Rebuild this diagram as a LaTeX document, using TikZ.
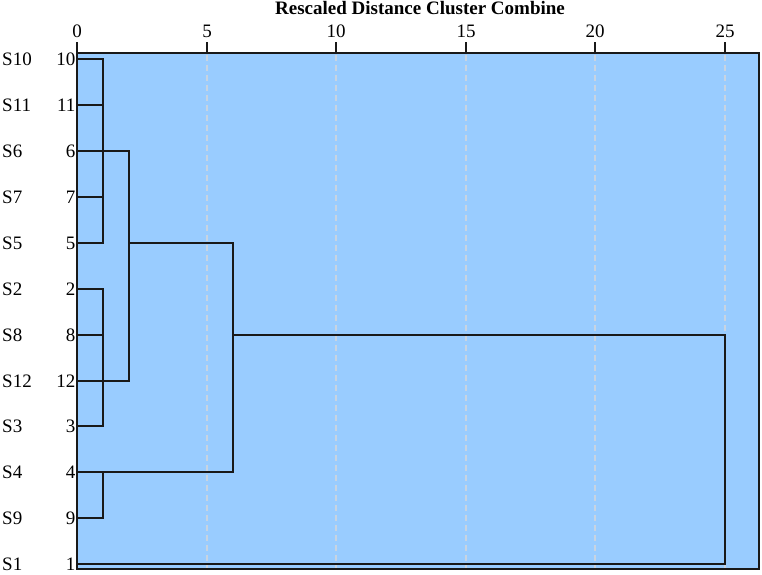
\documentclass[tikz,border=0pt]{standalone}
\usepackage{fontspec}
\setmainfont{Liberation Serif}
\definecolor{plotbg}{RGB}{153,204,255}
\definecolor{gridc}{RGB}{200,212,226}
\definecolor{lnc}{RGB}{25,25,25}
\tikzset{
  dend/.style={line width=1.6pt, draw=lnc, line cap=rect},
  gridline/.style={line width=1.1pt, draw=gridc, dash pattern=on 6pt off 4pt},
  frameline/.style={line width=1.6pt, draw=lnc},
  ticklab/.style={font=\fontsize{19}{22}\selectfont, anchor=base, inner sep=0pt},
  rowlab/.style={font=\fontsize{19}{22}\selectfont, anchor=base west, inner sep=0pt},
  numlab/.style={font=\fontsize{19}{22}\selectfont, anchor=base east, inner sep=0pt},
  titlelab/.style={font=\fontsize{19}{22}\selectfont\bfseries, anchor=base, inner sep=0pt}
}
\begin{document}
\begin{tikzpicture}[x=1pt,y=-1pt]
\useasboundingbox (0,0) rectangle (762,574);
% plot area
\fill[plotbg] (77,53) rectangle (759,569);
% grid lines and ticks
\foreach \d/\xx in {5/207,10/336,15/466,20/595,25/725} {
  \draw[gridline] (\xx,54.5) -- (\xx,568);
}
\foreach \d/\xx in {0/77,5/207,10/336,15/466,20/595,25/725} {
  \draw[frameline] (\xx,42) -- (\xx,53);
  \node[ticklab] (t\d) at (\xx,37) {\d};
}
\node[titlelab] (title) at (420,14.5) {Rescaled Distance Cluster Combine};
% leaves
\foreach \n/\s/\yy in {10/S10/59,11/S11/105,6/S6/151,7/S7/197,5/S5/243,2/S2/289,8/S8/335,12/S12/381,3/S3/426,4/S4/472,9/S9/518,1/S1/564} {
  \coordinate (L\n) at (77,\yy);
  \node[rowlab] (s\n) at (2,\yy+6.6) {\s};
  \node[numlab] (n\n) at (75.5,\yy+6.6) {\n};
}
% x-positions of joins
\coordinate (x1) at (103,0);
\coordinate (x2) at (129,0);
\coordinate (x6) at (233,0);
\coordinate (x25) at (725,0);
% cluster A: 10,11,6,7,5
\foreach \n in {10,11,6,7,5} { \draw[dend] (L\n) -- (L\n -| x1); }
\draw[dend] (L10 -| x1) -- (L5 -| x1);
% cluster B: 2,8,12,3
\foreach \n in {2,8,12,3} { \draw[dend] (L\n) -- (L\n -| x1); }
\draw[dend] (L2 -| x1) -- (L3 -| x1);
% A + B at 2
\draw[dend] (L6 -| x1) -- (L6 -| x2) -- (L12 -| x2) -- (L12 -| x1);
% cluster C: 4,9
\draw[dend] (L9) -- (L9 -| x1) -- (L4 -| x1);
% AB + C at 6
\draw[dend] (L5 -| x2) -- (L5 -| x6) -- (L4 -| x6) -- (L4);
% all + 1 at 25
\draw[dend] (L8 -| x6) -- (L8 -| x25) -- (L1 -| x25) -- (L1);
% frame
\draw[frameline] (77,53) rectangle (759,569);
\end{tikzpicture}
\end{document}
